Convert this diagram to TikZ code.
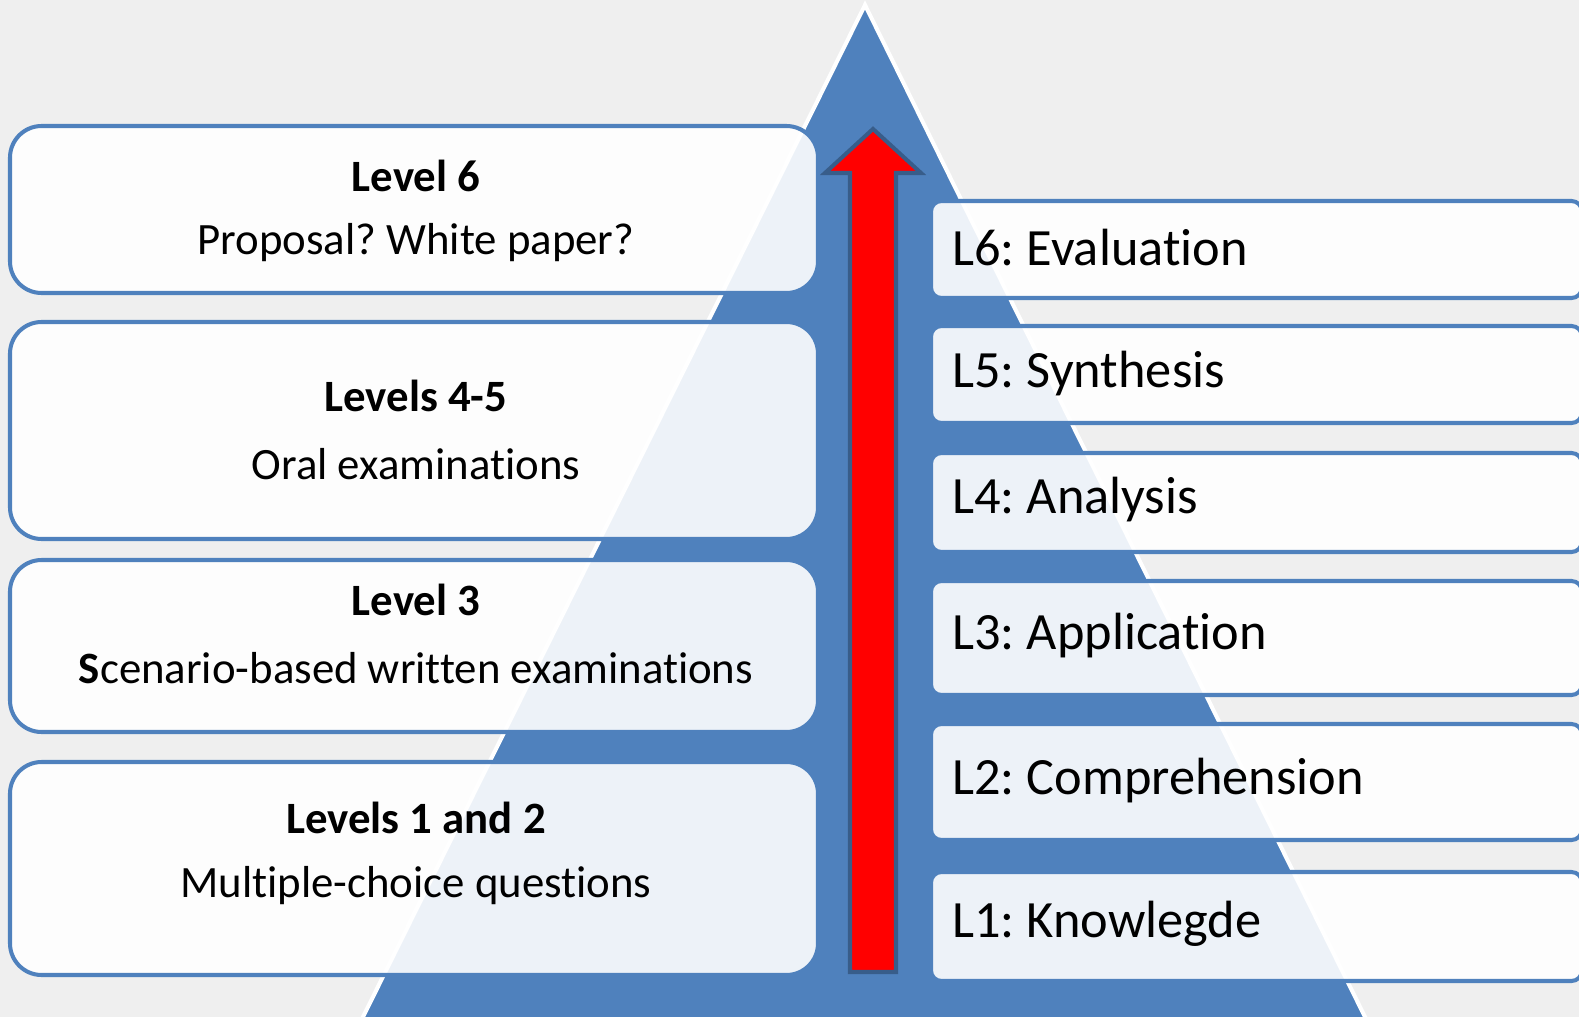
\documentclass[tikz,border=0pt]{standalone}
\usepackage{fontspec}
\setmainfont{Carlito}[Ligatures=NoCommon]
\frenchspacing
\definecolor{pyrblue}{HTML}{4F81BD}
\definecolor{arrowedge}{HTML}{385D8A}
\definecolor{backgray}{HTML}{EFEFEF}
\tikzset{
  levelbox/.style={draw=pyrblue, line width=2.3pt, fill=white, fill opacity=0.9, rounded corners=18pt},
  skillbox/.style={draw=pyrblue, line width=2.3pt, fill=white, fill opacity=0.9, rounded corners=6pt},
  leveltitle/.style={font=\bfseries\fontsize{25.5}{30}\selectfont},
  leveltext/.style={font=\fontsize{25.5}{30}\selectfont},
  skilltext/.style={anchor=west, inner sep=0pt, font=\fontsize{29.8}{35}\selectfont}
}
\begin{document}
\begin{tikzpicture}[x=0.02cm, y=-0.02cm]
      \useasboundingbox (0,0) rectangle (1579,1017);
      \fill[backgray] (0,0) rectangle (1579,1017);

      % pyramid and arrow
      \draw[white, line width=2.3pt, fill=pyrblue] (865,5)--(360.5,1022)--(1367.5,1022)--cycle;
      \draw[arrowedge, line width=2.3pt, fill=red] (873,129)--(921,173)--(896,173)--(896,972)--(850,972)--(850,173)--(825,173)--cycle;

      % left boxes
      \begin{scope}
        \draw[levelbox] (10,126) rectangle (818,293);
        \draw[levelbox] (10,322) rectangle (818,539);
        \draw[levelbox] (10,560) rectangle (818,732);
        \draw[levelbox] (10,762) rectangle (818,975);

        \node[leveltitle] (lev6) at (416,176) {Level 6};
        \node[leveltext] (lev6txt) at (416,243) {Proposal? White paper?};
        \node[leveltitle] (lev45) at (416,396) {Levels 4-5};
        \node[leveltext] (lev45txt) at (416,464) {Oral examinations};
        \node[leveltitle] (lev3) at (416,600) {Level 3};
        \node[leveltext] (lev3txt) at (416,668) {{\bfseries S}cenario-based written examinations};
        \node[leveltitle] (lev12) at (416,818) {Levels 1 and 2};
        \node[leveltext] (lev12txt) at (416,886) {Multiple-choice questions};
      \end{scope}

      % right boxes
      \begin{scope}
        \draw[skillbox] (931,201) rectangle (1582,298);
        \draw[skillbox] (931,326) rectangle (1582,423);
        \draw[skillbox] (931,453) rectangle (1582,552);
        \draw[skillbox] (931,581) rectangle (1582,695);
        \draw[skillbox] (931,724) rectangle (1582,840);
        \draw[skillbox] (931,872) rectangle (1582,981);

        \node[skilltext] (l6) at (952,248) {L6: Evaluation};
        \node[skilltext] (l5) at (952,374) {L5: Synthesis};
        \node[skilltext] (l4) at (952,500) {L4: Analysis};
        \node[skilltext] (l3) at (952,636) {L3: Application};
        \node[skilltext] (l2) at (952,781) {L2: Comprehension};
        \node[skilltext] (l1) at (952,924) {L1: Knowlegde};
      \end{scope}
\end{tikzpicture}
\end{document}
